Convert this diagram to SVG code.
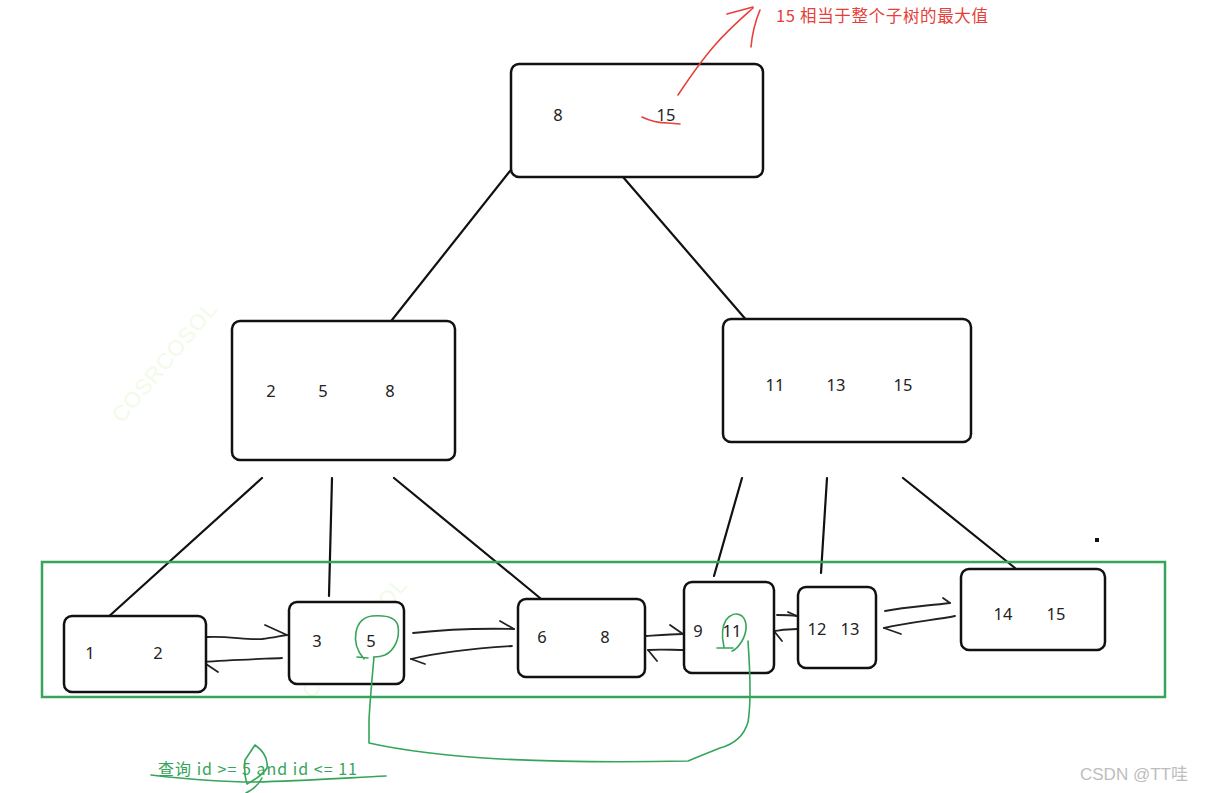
<svg xmlns="http://www.w3.org/2000/svg" width="1218" height="793" viewBox="0 0 1218 793">
<style>
.node{fill:#fff;stroke:#111;stroke-width:2.5}
.t{font-family:"Noto Sans","Open Sans",sans-serif;font-size:16.5px;fill:#222;text-anchor:middle;dominant-baseline:central}
.edge{stroke:#111;stroke-width:2.2;fill:none;stroke-linecap:round}
.hand{stroke:#222;stroke-width:1.8;fill:none;stroke-linecap:round;stroke-linejoin:round}
.green{stroke:#35a55a;stroke-width:1.6;fill:none;stroke-linecap:round;stroke-linejoin:round}
.red{stroke:#e5403a;stroke-width:1.6;fill:none;stroke-linecap:round;stroke-linejoin:round}
.wm{font-family:"Liberation Sans",Arial,sans-serif;font-size:22px;fill:#f1fbe8;letter-spacing:1px}
</style>
<rect width="1218" height="793" fill="#fff"/>
<text class="wm" transform="translate(122,424) rotate(-50)">COSRCOSOL</text>
<text class="wm" transform="translate(312,700) rotate(-50)">COSRCOSOL</text>

<g id="connectors">
<line class="edge" x1="510" y1="171" x2="388" y2="325"/>
<line class="edge" x1="623" y1="177" x2="748" y2="322"/>
<line class="edge" x1="262" y1="478" x2="106" y2="619"/>
<line class="edge" x1="332" y1="478" x2="329" y2="596"/>
<line class="edge" x1="394" y1="478" x2="540" y2="598"/>
<line class="edge" x1="742" y1="478" x2="714" y2="576"/>
<line class="edge" x1="827" y1="478" x2="821" y2="573"/>
<line class="edge" x1="903" y1="478" x2="1015" y2="568"/>
<!-- leaf links -->
<path class="hand" d="M207,637 C230,636 245,640 262,639 C272,638 280,636 287,635"/>
<path class="hand" d="M265,625 L287,635"/>
<path class="hand" d="M282,658 C260,659 230,660 203,662"/>
<path class="hand" d="M203,662 L218,672"/>
<path class="hand" d="M413,633 C440,630 470,628 514,629"/>
<path class="hand" d="M500,621 L514,629"/>
<path class="hand" d="M512,646 C480,648 440,652 411,659"/>
<path class="hand" d="M411,659 L425,664"/>
<path class="hand" d="M646,636 C660,635 672,634 683,634"/>
<path class="hand" d="M670,625 L683,634"/>
<path class="hand" d="M686,650 C672,650 660,649 648,650"/>
<path class="hand" d="M648,650 L657,661"/>
<path class="hand" d="M777,615 C785,615 790,615 797,616"/>
<path class="hand" d="M788,612 L797,616"/>
<path class="hand" d="M797,629 C788,629 782,630 774,631"/>
<path class="hand" d="M774,631 L782,641"/>
<path class="hand" d="M885,611 C905,607 925,606 950,603"/>
<path class="hand" d="M943,598 L950,603"/>
<path class="hand" d="M955,616 C935,620 910,622 884,628"/>
<path class="hand" d="M884,628 L901,634"/>
</g>

<rect x="42" y="562" width="1123" height="135" fill="none" stroke="#35a55a" stroke-width="2.5"/>

<g id="root">
<rect class="node" x="511" y="64" width="252" height="113" rx="8"/>
<text class="t" x="558" y="114">8</text>
<text class="t" x="666" y="114">15</text>
</g>
<g id="mid-left">
<rect class="node" x="232" y="321" width="223" height="139" rx="8"/>
<text class="t" x="271" y="390">2</text>
<text class="t" x="323" y="390">5</text>
<text class="t" x="390" y="390">8</text>
</g>
<g id="mid-right">
<rect class="node" x="723" y="319" width="248" height="123" rx="8"/>
<text class="t" x="775" y="384">11</text>
<text class="t" x="836" y="384">13</text>
<text class="t" x="903" y="384">15</text>
</g>
<g id="leaf1">
<rect class="node" x="64" y="616" width="142" height="76" rx="8"/>
<text class="t" x="90" y="652">1</text>
<text class="t" x="158" y="652">2</text>
</g>
<g id="leaf2">
<rect class="node" x="289" y="602" width="115" height="82" rx="8"/>
<text class="t" x="317" y="640">3</text>
<text class="t" x="371" y="640">5</text>
</g>
<g id="leaf3">
<rect class="node" x="518" y="599" width="127" height="78" rx="8"/>
<text class="t" x="542" y="636">6</text>
<text class="t" x="605" y="636">8</text>
</g>
<g id="leaf4">
<rect class="node" x="684" y="582" width="90" height="91" rx="8"/>
<text class="t" x="698" y="630">9</text>
<text class="t" x="732" y="630">11</text>
</g>
<g id="leaf5">
<rect class="node" x="798" y="587" width="78" height="81" rx="8"/>
<text class="t" x="817" y="628">12</text>
<text class="t" x="850" y="628">13</text>
</g>
<g id="leaf6">
<rect class="node" x="961" y="569" width="144" height="81" rx="8"/>
<text class="t" x="1003" y="613">14</text>
<text class="t" x="1056" y="613">15</text>
</g>

<rect x="1095" y="538" width="4" height="4" fill="#111"/>

<!-- red annotation -->
<g id="annotation">
<path class="red" d="M678,95 C688,80 700,62 715,45 C728,30 742,18 753,8"/>
<path class="red" d="M727,14 L753,7"/>
<path class="red" d="M760,10 C755,22 752,35 751,47"/>
<path class="red" d="M642,117 C650,121 658,123 668,123 L680,124"/>
<text x="776" y="22" font-family="Noto Sans CJK SC,Noto Sans,sans-serif" font-size="16.5" fill="#e5403a" textLength="212" lengthAdjust="spacing">15 相当于整个子树的最大值</text>
</g>

<!-- green query path -->
<g id="query">
<path class="green" d="M357,657 L368,658 M364,659 C358,652 354,642 356,632 C358,622 364,617 372,616 C384,615 396,617 398,626 C400,638 395,650 385,655 C380,657 377,657 374,657"/>
<path class="green" d="M374,657 C372,680 370,700 369,720 L369,743 C400,750 450,756 500,759 C560,762 640,762 688,761 C700,756 710,752 720,748 C735,744 744,736 748,722 C751,705 750,670 748,641"/>
<path class="green" d="M717,648 L733,648 M724,647 C722,638 721,628 726,620 C730,615 736,612 742,616 C748,622 747,632 742,641 C739,646 735,650 732,651"/>
<text x="158" y="775" font-family="Noto Sans CJK SC,Noto Sans,sans-serif" font-size="16" fill="#35a55a" textLength="199" lengthAdjust="spacing">查询 id &gt;= 5 and id &lt;= 11</text>
<path class="green" d="M151,775 C185,779 220,782 255,782 C300,781 345,778 386,776"/>
<path class="green" d="M255,745 L245,760 C244,770 245,778 247,784 C254,780 262,776 267,768 C268,760 265,752 255,745 M262,778 C258,786 252,790 246,793"/>
</g>

<text x="1080" y="780" font-family="Liberation Sans,Arial,Noto Sans CJK SC,sans-serif" font-size="17" fill="#bdbdbd">CSDN @TT哇</text>
</svg>
